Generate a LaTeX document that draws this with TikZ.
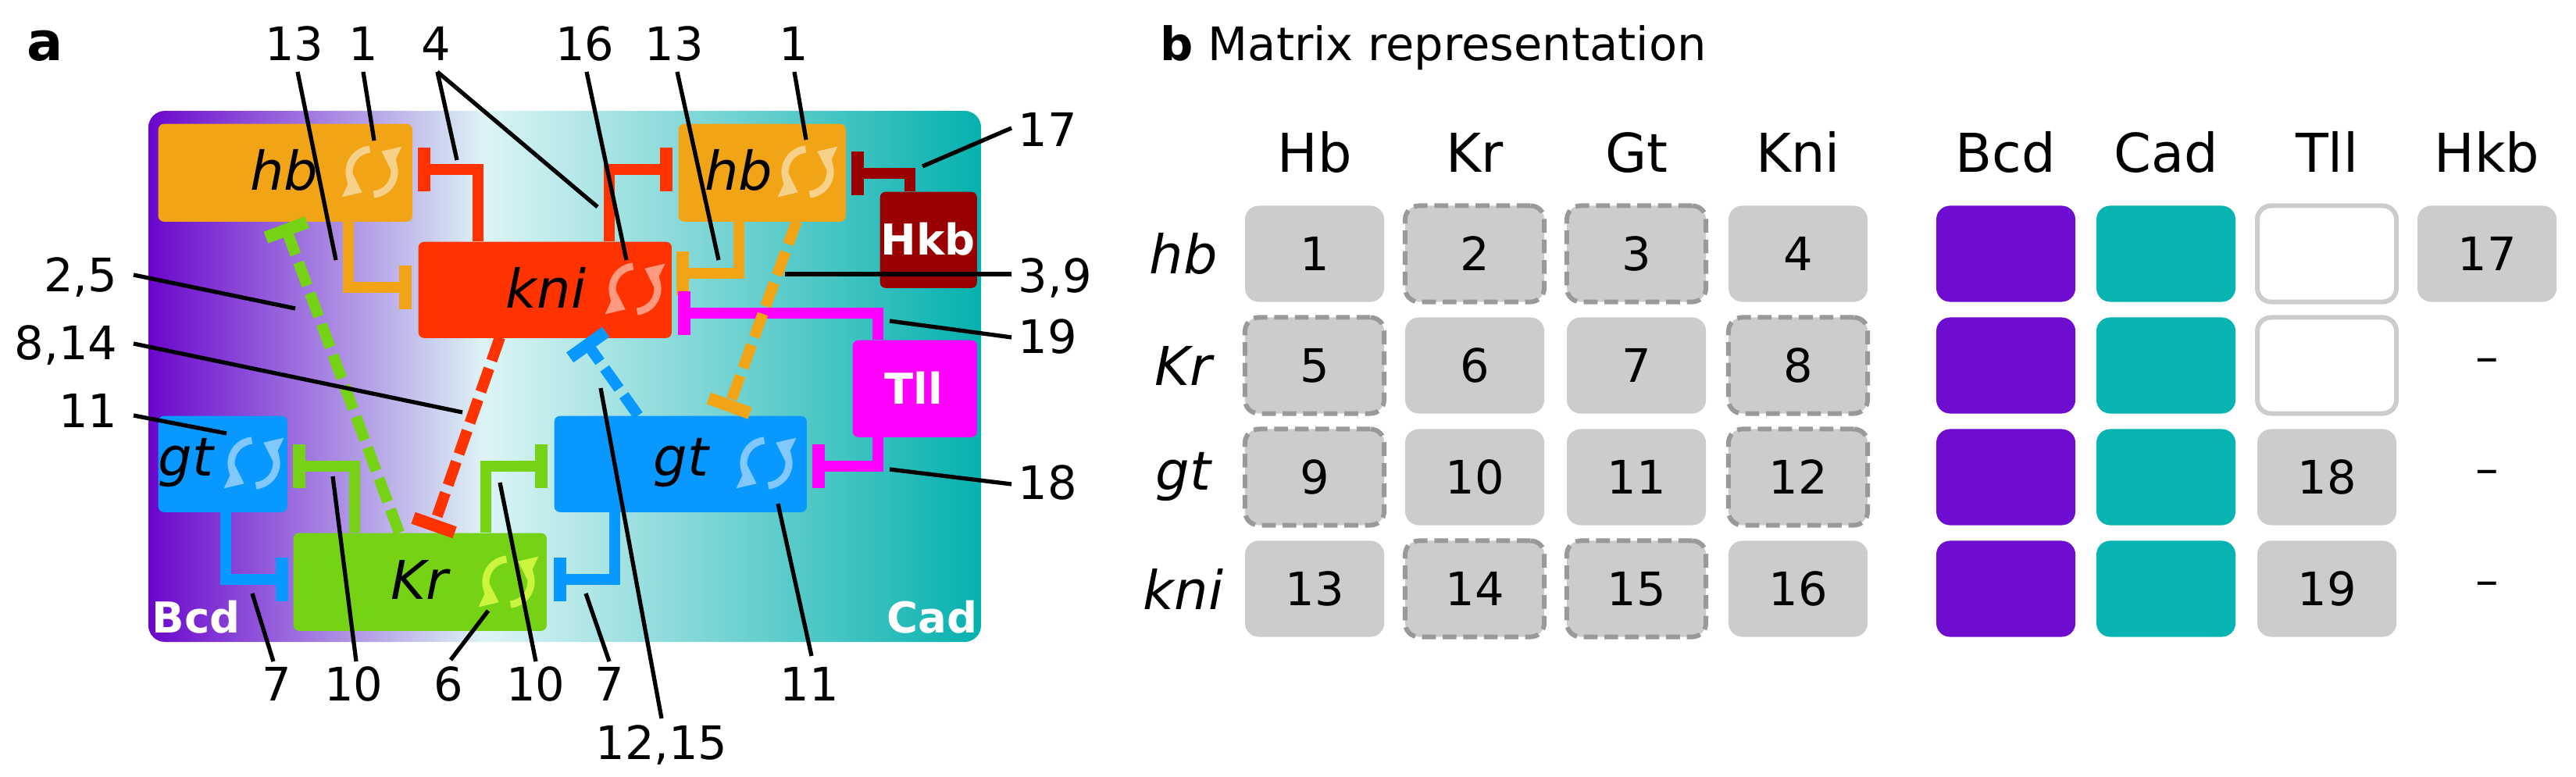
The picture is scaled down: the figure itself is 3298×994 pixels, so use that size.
\documentclass[tikz,border=0pt]{standalone}
\usepackage{fontspec}
\setmainfont{DejaVu Sans}
\usetikzlibrary{arrows.meta}
\definecolor{hbc}{HTML}{F0A416}
\definecolor{hbi}{HTML}{F7D08A}
\definecolor{knc}{HTML}{FF3300}
\definecolor{kni}{HTML}{FF9A80}
\definecolor{gtc}{HTML}{0898FF}
\definecolor{gti}{HTML}{80C8FF}
\definecolor{krc}{HTML}{76D215}
\definecolor{kri}{HTML}{CCF540}
\definecolor{hkc}{HTML}{990000}
\definecolor{tlc}{HTML}{FF00FF}
\definecolor{bgp}{HTML}{6A05CC}
\definecolor{bgl}{HTML}{DDF4F5}
\definecolor{bgt}{HTML}{05B1AE}
\definecolor{cellg}{HTML}{CCCCCC}
\definecolor{celld}{HTML}{999999}
\definecolor{bcdc}{HTML}{6E0DD0}
\definecolor{cadc}{HTML}{07B4B1}
\newcommand{\labf}{\fontsize{16.8}{20}\selectfont}
\newcommand{\genef}{\fontsize{19.5}{23}\selectfont\itshape}
\newcommand{\whf}{\fontsize{15.5}{18}\selectfont\bfseries}
\tikzset{
  box/.style={rounded corners=2pt, inner sep=0pt, anchor=north west},
  gene/.style={inner sep=0pt, font=\genef},
  wlab/.style={inner sep=0pt, font=\whf, text=white},
  lab/.style={inner sep=0pt, font=\labf},
  lead/.style={line width=1.5pt, black},
  inh/.style={line width=4pt, draw=#1, -{Bar[width=16pt,line width=4.5pt]}},
  dinh/.style={inh=#1, dash pattern=on 9pt off 3pt},
  cell/.style={fill=cellg, rounded corners=5pt, minimum width=1.78cm, minimum height=1.23cm, inner sep=0pt, font=\labf},
  dcell/.style={cell, draw=celld, line width=1.7pt, dash pattern=on 5pt off 2.5pt},
  ecell/.style={cell, fill=white, draw=cellg, line width=1.7pt},
  bcell/.style={cell, fill=bcdc},
  ccell/.style={cell, fill=cadc},
  head/.style={inner sep=0pt, font=\fontsize{19.5}{23}\selectfont},
  cyc/.style={line width=2.6pt, draw=#1, -{Triangle[length=6pt,width=9pt]}}
}
\newcommand{\cycicon}[3]{%
  \draw[cyc=#3] (#1,#2) ++(95:0.29cm) arc[start angle=95, end angle=245, radius=0.29cm];
  \draw[cyc=#3] (#1,#2) ++(275:0.29cm) arc[start angle=275, end angle=425, radius=0.29cm];}
\begin{document}
\begin{tikzpicture}[x=0.01cm, y=-0.01cm]
\useasboundingbox (0,0) rectangle (3298,994);
% background
\begin{scope}
\clip[rounded corners=6pt] (190,142) rectangle (1256,822);
\shade[left color=bgp, right color=bgl] (189,141) rectangle (621,823);
\shade[left color=bgl, right color=bgt] (620,141) rectangle (1257,823);
\end{scope}
\node[wlab, anchor=base west] (bcd) at (194,810) {Bcd};
\node[wlab, anchor=base east] (cad) at (1252,810) {Cad};
\node[inner sep=0pt, font=\fontsize{19.5}{23}\selectfont\bfseries, anchor=base west] (pa) at (34,78) {a};
% boxes
\node[box, fill=hbc, minimum width=3.25cm, minimum height=1.25cm] (hbL) at (202,158) {};
\node[box, fill=hbc, minimum width=2.14cm, minimum height=1.25cm] (hbR) at (868,158) {};
\node[box, fill=hkc, minimum width=1.24cm, minimum height=1.23cm] (hkb) at (1126,245) {};
\node[box, fill=knc, minimum width=3.24cm, minimum height=1.23cm] (kn) at (535,309) {};
\node[box, fill=tlc, minimum width=1.59cm, minimum height=1.24cm] (tll) at (1091,435) {};
\node[box, fill=gtc, minimum width=3.23cm, minimum height=1.23cm] (gtR) at (709,532) {};
\node[box, fill=gtc, minimum width=1.65cm, minimum height=1.23cm] (gtL) at (202,532) {};
\node[box, fill=krc, minimum width=3.24cm, minimum height=1.25cm] (kr) at (375,682) {};
% box texts
\node[gene] (thbL) at (364,218) {hb};
\node[gene] (thbR) at (946,218) {hb};
\node[gene] (tkn) at (699,368) {kni};
\node[gene] (tgtR) at (872,593) {gt};
\node[gene] (tgtL) at (238,593) {gt};
\node[gene] (tkr) at (537,742) {Kr};
\node[wlab] (thk) at (1188,306) {Hkb};
\node[wlab] (ttl) at (1170,497) {Tll};
% icons
\cycicon{476}{220}{hbi}
\cycicon{1034}{220}{hbi}
\cycicon{813}{370}{kni}
\cycicon{981}{593}{gti}
\cycicon{325}{593}{gti}
\cycicon{651}{745}{kri}
% inhibitions
\draw[inh=knc] (612,309) |- (535,217);
\draw[inh=knc] (780,309) |- (861,217);
\draw[inh=hbc] (446,283) |- (527,368);
\draw[inh=hbc] (946,283) |- (866,350);
\draw[inh=hkc] (1165,245) |- (1090,222);
\draw[inh=tlc] (1124,435) |- (868,401);
\draw[inh=tlc] (1124,559) |- (1040,597);
\draw[inh=krc] (454,682) |- (375,597);
\draw[inh=krc] (622,682) |- (701,597);
\draw[inh=gtc] (289,655) |- (369,742);
\draw[inh=gtc] (787,655) |- (709,742);
\draw[dinh=krc] (511,682) -- (364,287);
\draw[dinh=knc] (640,432) -- (553,680);
\draw[dinh=gtc] (817,532) -- (748,435);
\draw[dinh=hbc] (1020,283) -- (931,527);
% top labels
\node[lab, anchor=base] (l13a) at (377,78) {13};
\node[lab, anchor=base] (l1a) at (465,78) {1};
\node[lab, anchor=base] (l4) at (558,78) {4};
\node[lab, anchor=base] (l16) at (749,78) {16};
\node[lab, anchor=base] (l13b) at (863,78) {13};
\node[lab, anchor=base] (l1b) at (1016,78) {1};
\draw[lead] (381,92) -- (430,333);
\draw[lead] (465,92) -- (479,180);
\draw[lead] (560,92) -- (585,205);
\draw[lead] (560,92) -- (765,265);
\draw[lead] (751,92) -- (802,333);
\draw[lead] (867,92) -- (920,333);
\draw[lead] (1017,92) -- (1032,179);
% right labels
\node[lab, anchor=base west] (l17) at (1303,188) {17};
\node[lab, anchor=base west] (l39) at (1303,374) {3,9};
\node[lab, anchor=base west] (l19) at (1303,452) {19};
\node[lab, anchor=base west] (l18) at (1303,639) {18};
\draw[lead] (1295,164) -- (1181,213);
\draw[lead] (1005,351) -- (1295,351);
\draw[lead] (1139,411) -- (1295,432);
\draw[lead] (1139,601) -- (1295,620);
% left labels
\node[lab, anchor=base east] (l25) at (151,373) {2,5};
\node[lab, anchor=base east] (l814) at (151,460) {8,14};
\node[lab, anchor=base east] (l11a) at (151,547) {11};
\draw[lead] (171,352) -- (378,395);
\draw[lead] (171,440) -- (592,528);
\draw[lead] (171,532) -- (290,555);
% bottom labels
\node[lab, anchor=base] (l7a) at (354,897) {7};
\node[lab, anchor=base] (l10a) at (453,897) {10};
\node[lab, anchor=base] (l6) at (574,897) {6};
\node[lab, anchor=base] (l10b) at (686,897) {10};
\node[lab, anchor=base] (l7b) at (780,897) {7};
\node[lab, anchor=base] (l1215) at (847,972) {12,15};
\node[lab, anchor=base] (l11b) at (1036,897) {11};
\draw[lead] (323,760) -- (350,847);
\draw[lead] (426,610) -- (456,847);
\draw[lead] (625,782) -- (577,845);
\draw[lead] (640,618) -- (686,847);
\draw[lead] (750,760) -- (780,847);
\draw[lead] (769,497) -- (847,920);
\draw[lead] (996,645) -- (1039,840);
% panel b
\node[inner sep=0pt, font=\fontsize{16.8}{20}\selectfont, anchor=base west] (pb) at (1485,78) {\textbf{b} Matrix representation};
\foreach \t/\x in {Hb/1683,Kr/1888,Gt/2095,Kni/2302,Bcd/2568,Cad/2773,Tll/2979,Hkb/3184}
  \node[head, anchor=base] (h\t) at (\x,220) {\t};
\foreach \t/\y in {hb/325,Kr/468,gt/611,kni/754}
  \node[gene] (r\t) at (1515,\y) {\t};
% row hb
\node[cell] (c1) at (1683,325) {1};
\node[dcell] (c2) at (1888,325) {2};
\node[dcell] (c3) at (2095,325) {3};
\node[cell] (c4) at (2302,325) {4};
\node[bcell] (b1) at (2568,325) {};
\node[ccell] (d1) at (2773,325) {};
\node[ecell] (e1) at (2979,325) {};
\node[cell] (c17) at (3184,325) {17};
% row Kr
\node[dcell] (c5) at (1683,468) {5};
\node[cell] (c6) at (1888,468) {6};
\node[cell] (c7) at (2095,468) {7};
\node[dcell] (c8) at (2302,468) {8};
\node[bcell] (b2) at (2568,468) {};
\node[ccell] (d2) at (2773,468) {};
\node[ecell] (e2) at (2979,468) {};
\node[lab] (x2) at (3184,468) {–};
% row gt
\node[dcell] (c9) at (1683,611) {9};
\node[cell] (c10) at (1888,611) {10};
\node[cell] (c11) at (2095,611) {11};
\node[dcell] (c12) at (2302,611) {12};
\node[bcell] (b3) at (2568,611) {};
\node[ccell] (d3) at (2773,611) {};
\node[cell] (c18) at (2979,611) {18};
\node[lab] (x3) at (3184,611) {–};
% row kni
\node[cell] (c13) at (1683,754) {13};
\node[dcell] (c14) at (1888,754) {14};
\node[dcell] (c15) at (2095,754) {15};
\node[cell] (c16) at (2302,754) {16};
\node[bcell] (b4) at (2568,754) {};
\node[ccell] (d4) at (2773,754) {};
\node[cell] (c19) at (2979,754) {19};
\node[lab] (x4) at (3184,754) {–};
\end{tikzpicture}
\end{document}
